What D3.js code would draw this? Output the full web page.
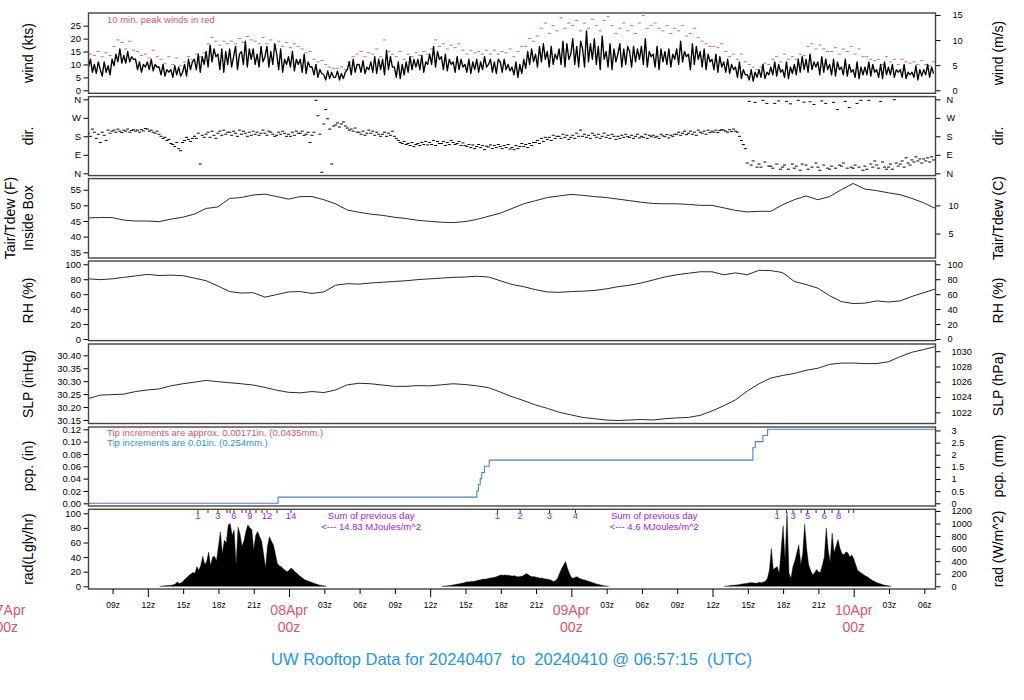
<!DOCTYPE html>
<html><head><meta charset="utf-8">
<script src="https://cdn.jsdelivr.net/npm/d3@7"></script>
<style>
body{margin:0;background:#fff;}
svg{font-family:"Liberation Sans", Arial, Helvetica, sans-serif;}
</style></head><body>
<svg id="c" width="1024" height="700"></svg>
<script>
// ---------------- DATA ----------------
const startTime = Date.UTC(2024,3,7,6,57,15);
const endTime   = Date.UTC(2024,3,10,6,57,15);
const titleText = "UW Rooftop Data for 20240407  to  20240410 @ 06:57:15  (UTC)";

// wind speed (kts), every 10 min from start
const windKts = [
9,12,7,10,6.5,11, 8,5.5,11,7,9.5,6, 12,9.5,14,11,16,10.5, 13.5,10.5,15,11,13,12,
12,8,11,7,10,9, 11,8,12,7.5,10,9, 9,6,10,5.5,8,7, 8,5,9.5,6,9,5.5,
7,10,5.5,12,8,11, 12,8,14,7,13,10, 15,9,17.5,11,16,13, 14,8,16,7,15,10,
16,9,13,17,8,14, 15,10,19,9,16,12, 16,10,14,9,17,11, 13,17,9,15,10,18,
14,8,16,7,12,10, 13,9,15,7.5,12,10, 12,7,14,6.5,11,9, 9,6,10,5,8,6.5,
6,4,7.5,4.5,7,5, 5,7.5,4,6.5,4.5,7, 8,11,6,12,7,10, 10,7,11.5,6.5,9,8,
11,7,13,6.5,12,8, 12,6,15.5,8,13,9, 9,5,11,4.5,10,6, 11,7,13,8,12,9,
12,8,13.5,7,11,10, 14,10,17,9,15,12, 13,8,14,7.5,12,10, 11,7,13,8,12,9,
10,7,12,6.5,11,8, 12,7,11,8,13,9, 10,12,7,11,6.5,12, 11,7,12,8,10,7.5,
9,6,11,5,10,6.5, 12,8.5,15,10,16,11, 14,9,17,11,18,12, 15,9,17,10,14,12,
16,10,19,9,18,12, 14,20,10,17,9,19, 16,9,23,11,18,12, 20,10,17,8,21,12,
15,9,18,8,16,11, 14,18,9,16,10,17, 15,9,17,11,16,12, 17,10,20,9,15,13,
14,9,17,8,16,11, 15,10,16,9,14,12, 16,10,19,11,15,13, 14,8,18,10,17,12,
15,9,16,8,14,11, 12,8,14,7,13,9, 11,7,12,6.5,10,8, 9,5,11,4.5,8,6,
6,4,8,3.5,7,5, 8,5,10,4.5,7,6, 9,6,11,5.5,10,7, 8,5,11,4.5,9,6.5,
10,6,12,7,13,8, 12,7,14,8,11,9, 11,6,13,7,12,8, 10,6,12,5.5,11,8,
9,6,12,5.5,10,7, 8,5,11,4.5,9,6, 9,6,11,5.5,10,7, 8,5,10,4.5,11,6,
9,6,10,5,8,7, 8,5,10,4.5,7,6, 7,5,9.5,4,8,5.5, 8,6,10,5,9,6.5
];
// 10-min peak winds (kts), every 20 min
const peakKts = [
14,13.5,15, 13,14.5,13.5, 17,19.5,18.5, 16,19,15.5, 15,13.5,14, 12.5,15.5,13,
12,10.5,13, 10,12.5,9.5, 11,13,12, 14,13,14.5, 18,20.5,19, 17.5,19,18,
19,18,20, 18.5,20.8,19.5, 19,18,20.5, 18,19.5,17.5, 19,17,18.5, 16.5,18,17,
16,14.5,15, 12,11,11.5, 10,9,8.5, 8.5,9,8, 11,13,14, 15,13,14.5,
14,16,13, 19.5,15,14, 13,15,12, 14,13,14.5, 13.5,15,14, 16,19.5,17,
18,16,17.5, 16.5,18,15.5, 14,15.5,14.5, 15,14,15.5, 14,15.5,14, 15,14.5,16,
13,15,17, 17,20,19, 21,24,26, 22,25,23, 28,24,26, 25,27,23,
26,24,27.5, 25,23,27, 28.5,25,22, 24,26,23, 25,22,26, 28.9,24,25,
26,24,23, 25,22,24, 23,25,21, 22,24,20.5, 19,18,17, 17,16.5,18,
15,13,14, 12,14,11, 10,9,8, 9,10.5,10, 12,13,11, 14,12,13,
12,14,13.5, 17,18,16, 17.5,16,15, 15,16.5,14, 16,15,17, 14,16,13,
13,12,11.5, 12,10,13, 11,12,10, 12,11,10.5, 11,10,11.5, 10,9.5,11
];
// wind direction (deg), every 10 min
const dirDeg = [
195,180,215,200,170,190, 150,200,185,160,210,195, 205,210,200,215,205,198, 210,205,215,200,208,212,
205,210,200,212,206,218, 215,205,210,200,195,205, 190,180,170,175,160,165, 145,140,130,150,120,110,
150,160,175,165,155,170, 180,170,195,45,185,175, 190,200,175,205,185,170, 195,205,185,210,190,200,
200,185,205,195,180,210, 190,205,195,180,200,185, 205,190,200,185,195,210, 195,185,205,200,190,180,
185,200,190,205,195,180, 190,180,200,185,205,195, 195,205,185,190,200,150, 185,200,355,280,190,5,
240,310,265,215,45,230, 235,245,225,240,250,230, 220,210,215,205,220,200, 200,190,205,185,195,210,
195,205,185,200,190,180, 190,200,180,195,185,205, 180,170,160,150,145,155, 140,145,135,150,130,140,
145,135,150,140,155,138, 150,140,160,135,155,145, 145,155,135,150,140,160, 150,140,145,155,135,148,
135,130,140,125,138,120, 130,140,125,135,115,132, 128,138,120,135,125,140, 130,120,135,125,140,118,
125,115,135,120,130,145, 130,140,125,145,135,150, 150,160,145,170,155,175, 165,175,160,185,170,180,
180,170,190,175,185,165, 175,185,170,195,180,210, 180,190,175,185,170,195, 185,175,190,170,180,195,
175,185,170,190,180,165, 180,170,185,175,190,178, 175,185,170,180,190,172, 180,175,190,170,185,178,
185,175,180,170,190,182, 178,188,172,185,180,190, 190,200,185,195,205,188, 195,205,190,200,185,210,
200,195,205,190,210,198, 205,200,210,198,208,212, 210,205,200,212,203,215, 205,200,180,160,140,120,
50,350,40,60,345,30, 45,30,355,55,340,35, 35,25,340,45,352,20, 30,40,350,20,338,45,
25,35,355,15,45,346, 40,20,348,30,335,50, 30,15,352,40,340,25, 20,35,345,25,310,40,
35,50,350,25,320,30, 25,40,340,30,355,15, 35,20,355,45,30,60, 40,25,350,55,30,20,
30,45,20,358,50,35, 45,60,30,75,50,40, 65,55,80,60,70,50, 70,60,75,55,80,65
];
// hourly from start
const tairF = [46.0,46.1,46.1,45.3,45.0,45.0,44.8,45.6,46.2,47.2,49.0,49.5,52.2,52.5,53.3,53.6,52.8,52.0,52.8,52.8,
51.8,50.5,48.5,47.8,47.2,46.8,46.2,45.8,45.2,44.9,44.6,44.5,44.8,45.5,46.5,47.5,49.0,50.5,51.5,52.5,
53.0,53.5,53.2,52.8,52.5,52.0,51.5,51.0,50.6,50.5,50.5,50.3,50.0,50.0,49.2,48.4,47.9,48.1,48.1,50.2,
51.8,53.0,51.8,52.8,55.0,57.0,55.2,54.7,54.0,53.4,52.2,50.8,49.0];
const rhPct = [80.5,79.5,80.5,82.5,84.5,86.5,85.0,85.5,84.8,81.5,78.0,71.0,63.5,61.5,62.0,56.0,59.5,63.0,63.5,61.0,
63.0,72.0,74.0,73.5,75.0,76.0,77.0,78.0,79.5,80.5,81.5,82.5,83.0,84.0,83.0,78.0,73.0,70.0,66.0,63.0,
62.5,63.5,64.0,65.0,67.0,70.0,72.0,75.0,79.0,83.0,86.0,88.0,90.0,90.0,86.0,88.5,86.0,92.0,91.5,89.0,
77.0,73.0,68.0,58.0,50.0,47.5,48.0,51.0,49.5,51.0,57.0,62.0,67.0];
const slpInHg = [30.233,30.246,30.248,30.250,30.260,30.266,30.270,30.282,30.290,30.296,30.303,30.298,30.294,30.290,30.285,
30.276,30.265,30.257,30.255,30.260,30.256,30.266,30.286,30.292,30.290,30.285,30.280,30.280,30.283,30.282,
30.286,30.290,30.287,30.282,30.275,30.258,30.240,30.225,30.208,30.195,30.180,30.170,30.160,30.155,30.150,
30.148,30.150,30.152,30.150,30.155,30.158,30.160,30.168,30.185,30.205,30.228,30.262,30.290,30.312,30.322,
30.330,30.342,30.350,30.365,30.370,30.370,30.368,30.368,30.375,30.395,30.412,30.422,30.434];
// precipitation (cumulative inches) step changes
const pcpTimes = ["2024-04-07T06:57:15Z","2024-04-07T23:04:00Z","2024-04-08T15:58:00Z","2024-04-08T16:06:00Z",
"2024-04-08T16:15:00Z","2024-04-08T16:23:00Z","2024-04-08T16:37:00Z","2024-04-08T17:01:00Z",
"2024-04-09T15:26:00Z","2024-04-09T15:38:00Z","2024-04-09T16:17:00Z","2024-04-09T16:41:00Z","2024-04-10T06:57:15Z"];
const pcpInches = [0,0.01,0.02,0.03,0.04,0.05,0.06,0.07,0.09,0.10,0.11,0.12,0.12];
// solar radiation (Lgly/hr), every 10 min, per day
const rad1Start = "2024-04-07T13:00:00Z";
const rad1 = [0,0,0.5,0.8,1,1.2,1.5,2,3,6,4,5,7,10,12,15,17,19,18,27,22,29,41,30,34,47,28,40,41,35,55,75,45,63,60,84,86,70,77,30,
81,72,55,62,75,84,80,78,50,70,75,68,62,45,25,55,68,62,57,45,32,28,27,24,22,20,22,25,23,20,18,15,13,11,9,8,7,6,5,4,3,2,1.5,1,0.5,0];
const rad2Start = "2024-04-08T13:00:00Z";
const rad2 = [0,0,0.3,0.8,1.2,1.5,2,2.4,3,3.6,4.2,4.5,5.5,6.2,6,6.8,6.5,7.2,8,8.5,9,10,9.5,10.5,11,11.5,12,12.5,13.5,14.5,
15.5,15,15.5,15,15.2,14.5,14,14.5,13.5,13,13.5,14,15.5,17.5,16,14,13,13.5,12.5,12,11,11.5,10.5,10,9.5,9,8,6.5,8,11,
18,24,29,34,25,18,12,11,12.5,13,11,10,9,8.5,7.5,6.5,6,5,4,3.2,2.5,1.8,1.2,0.6,0.2,0];
const rad3Start = "2024-04-09T13:00:00Z";
const rad3 = [0,0,0.5,1,1.3,1.6,1.8,2,2.5,3,3.5,4,4.2,4.8,5,4.5,4.3,4.6,5.5,5,6,7,11,22,52,23,25,27,18,50,
83,36,101,18,11,27,35,46,57,30,45,85,52,30,22,16,18,23,20,19,29,40,80,50,33,73,46,55,64,52,
45,43,47,46,40,43,38,30,22,20,18,16,14,13,11,9,7.5,6,5,4,3,2,1.5,1,0.5,0];
// cumulative MJ/m^2 marks (hours after 2024-04-07 00z) and labels
const radMarkHours = [16.26,17.11,17.96,18.73,18.98,19.32,20.0,20.34,20.68,21.19,21.70,22.13,22.98,24.17,
41.72,43.65,46.14,48.35, 65.49,66.28,66.85,67.53,68.09,68.8,69.51,70.16,70.73,71.58,72.0];
const radMarkLabels = ["1","","3","","","6","","","9","","","12","","14", "1","2","3","4", "1","","3","","5","","6","","8","",""];
const radSums = [{h:30.98, text:"14.83"},{h:55.05, text:"4.6"}];

// tick values
const windTicks = [0,5,10,15,20,25], windMsTicks=[0,5,10,15];
const dirTicks = [0,90,180,270,360], dirLabels = ["N","E","S","W","N"];
const tairTicks = [35,40,45,50,55], tairCTicks = [5,10];
const rhTicks = [0,20,40,60,80,100];
const slpTicks = [30.15,30.20,30.25,30.30,30.35,30.40], hpaTicks = [1022,1024,1026,1028,1030];
const pcpTicks = [0,0.02,0.04,0.06,0.08,0.10,0.12], mmTicks = [0,0.5,1,1.5,2,2.5,3];
const radTicks = [0,20,40,60,80,100], wm2Ticks = [0,200,400,600,800,1000,1200];

// ---------------- DRAW ----------------
const RED="#DF536B", BLUE="#2297E6", PURPLE="#A020F0";
const FONT='"Liberation Sans", Arial, Helvetica, sans-serif';
const svg = d3.select("#c");
const X0=88.5, X1=935.5;
const x = d3.scaleUtc().domain([new Date(startTime), new Date(endTime)]).range([X0,X1]);
const step10 = i => new Date(startTime + i*600e3);
const hourly = i => new Date(startTime + i*3600e3);
const fromDay = h => new Date(Date.UTC(2024,3,7) + h*3600e3);
const plain = d => String(d);

const panels = [
 {id:"p1", y0:13, y1:93.3},
 {id:"p2", y0:96.6, y1:175.6},
 {id:"p3", y0:178.6, y1:258},
 {id:"p4", y0:261, y1:340.6},
 {id:"p5", y0:344, y1:423.5},
 {id:"p6", y0:427, y1:506},
 {id:"p7", y0:509.3, y1:589}
];
const defs = svg.append("defs");
panels.forEach(p=>{
  defs.append("clipPath").attr("id","clip-"+p.id).append("rect")
   .attr("x",X0).attr("y",p.y0).attr("width",X1-X0).attr("height",p.y1-p.y0);
});

const yWind = d3.scaleLinear().domain([0,25]).range([90.3,25.7]);
const yWindMs = d3.scaleLinear().domain([0,25*0.514444]).range([90.3,25.7]);
const yDir = d3.scaleLinear().domain([0,360]).range([173.3,99.3]);
const yT = d3.scaleLinear().domain([35,55]).range([252.3,189.7]);
const yTC = d3.scaleLinear().domain([(35-32)/1.8,(55-32)/1.8]).range([252.3,189.7]);
const yRH = d3.scaleLinear().domain([0,100]).range([339,264.3]);
const ySLP = d3.scaleLinear().domain([30.15,30.40]).range([420,355.3]);
const ySLPh = d3.scaleLinear().domain([30.15*33.8639,30.40*33.8639]).range([420,355.3]);
const yP = d3.scaleLinear().domain([0,0.12]).range([503.3,429.3]);
const yPmm = d3.scaleLinear().domain([0,0.12*25.4]).range([503.3,429.3]);
const yR = d3.scaleLinear().domain([0,100]).range([586.3,513.3]);
const yRW = d3.scaleLinear().domain([0,100*11.622]).range([586.3,513.3]);

function styleAxis(g, fs){
  g.attr("font-size",fs).attr("font-family",FONT);
  g.select(".domain").remove();
  g.selectAll(".tick line").attr("stroke","#000");
}
function leftAxis(scale, vals, fmt){
  const a = d3.axisLeft(scale).tickValues(vals).tickSize(5).tickPadding(2.5).tickFormat(fmt || plain);
  const g = svg.append("g").attr("transform",`translate(${X0},0)`).call(a);
  styleAxis(g, 9.5);
}
function rightAxis(scale, vals, fmt, pad){
  const a = d3.axisRight(scale).tickValues(vals).tickSize(5).tickPadding(pad).tickFormat(fmt || plain);
  const g = svg.append("g").attr("transform",`translate(${X1},0)`).call(a);
  styleAxis(g, 9.2);
}
function clipG(id){ return svg.append("g").attr("clip-path",`url(#clip-${id})`); }

// --- wind panel
const gW = clipG("p1");
gW.selectAll("line.pk").data(peakKts).join("line")
  .attr("x1",(d,i)=>x(new Date(startTime+(i*20+10)*60e3))-1.6)
  .attr("x2",(d,i)=>x(new Date(startTime+(i*20+10)*60e3))+1.6)
  .attr("y1",d=>yWind(d)).attr("y2",d=>yWind(d))
  .attr("stroke",RED).attr("stroke-width",0.9);
gW.append("path").datum(windKts)
  .attr("d", d3.line().x((d,i)=>x(step10(i))).y(d=>yWind(d)))
  .attr("fill","none").attr("stroke","#000").attr("stroke-width",1.35).attr("stroke-linejoin","round");
svg.append("text").attr("x",107).attr("y",23).attr("font-size",9.5).attr("font-family",FONT)
  .attr("fill",RED).text("10 min. peak winds in red");
leftAxis(yWind, windTicks);
rightAxis(yWindMs, windMsTicks, null, 12);

// --- direction panel
const gD = clipG("p2");
gD.selectAll("line").data(dirDeg).join("line")
  .attr("x1",(d,i)=>x(step10(i))-1.5).attr("x2",(d,i)=>x(step10(i))+1.5)
  .attr("y1",d=>yDir(d)).attr("y2",d=>yDir(d))
  .attr("stroke","#000").attr("stroke-width",1);
leftAxis(yDir, dirTicks, (d,i)=>dirLabels[i]);
rightAxis(yDir, dirTicks, (d,i)=>dirLabels[i], 6);

// --- temperature panel
clipG("p3").append("path").datum(tairF)
  .attr("d", d3.line().x((d,i)=>x(hourly(i))).y(d=>yT(d)))
  .attr("fill","none").attr("stroke","#111").attr("stroke-width",0.9);
leftAxis(yT, tairTicks);
rightAxis(yTC, tairCTicks, null, 8);

// --- RH panel
clipG("p4").append("path").datum(rhPct)
  .attr("d", d3.line().x((d,i)=>x(hourly(i))).y(d=>yRH(d)))
  .attr("fill","none").attr("stroke","#111").attr("stroke-width",0.9);
leftAxis(yRH, rhTicks);
rightAxis(yRH, rhTicks, null, 7);

// --- SLP panel
clipG("p5").append("path").datum(slpInHg)
  .attr("d", d3.line().x((d,i)=>x(hourly(i))).y(d=>ySLP(d)))
  .attr("fill","none").attr("stroke","#111").attr("stroke-width",0.9);
leftAxis(ySLP, slpTicks, d3.format(".2f"));
rightAxis(ySLPh, hpaTicks, null, 11);

// --- precip panel
const pcpData = pcpTimes.map((t,i)=>({t:new Date(t), v:pcpInches[i]}));
clipG("p6").append("path").datum(pcpData)
  .attr("d", d3.line().curve(d3.curveStepAfter).x(d=>x(d.t)).y(d=>yP(d.v)))
  .attr("fill","none").attr("stroke","#4a80cc").attr("stroke-width",1.1);
svg.append("text").attr("x",107).attr("y",436).attr("font-size",9.5).attr("font-family",FONT)
  .attr("fill",RED).text("Tip increments are approx. 0.00171in. (0.0435mm.)");
svg.append("text").attr("x",107).attr("y",445.5).attr("font-size",9.5).attr("font-family",FONT)
  .attr("fill",BLUE).text("Tip increments are 0.01in. (0.254mm.)");
leftAxis(yP, pcpTicks, d3.format(".2f"));
rightAxis(yPmm, mmTicks, null, 11);

// --- radiation panel
const gR = clipG("p7");
[[rad1Start,rad1],[rad2Start,rad2],[rad3Start,rad3]].forEach(([s,arr])=>{
  const t0 = new Date(s).getTime();
  gR.append("path").datum(arr)
    .attr("d", d3.area().x((d,i)=>x(new Date(t0+i*600e3))).y0(yR(0)).y1(d=>yR(d)))
    .attr("fill","#000").attr("stroke","#000").attr("stroke-width",0.4);
});
const marks = radMarkHours.map((h,i)=>({t:fromDay(h), l:radMarkLabels[i]}));
svg.append("g").selectAll("line").data(marks).join("line")
  .attr("x1",d=>x(d.t)).attr("x2",d=>x(d.t)).attr("y1",509.3).attr("y2",513)
  .attr("stroke","#000").attr("stroke-width",0.8);
svg.append("g").selectAll("text").data(marks.filter(d=>d.l)).join("text")
  .attr("x",d=>x(d.t)).attr("y",518.5).attr("text-anchor","middle")
  .attr("font-size",9.5).attr("font-family",FONT).attr("fill",PURPLE).text(d=>d.l);
radSums.forEach(s=>{
  const cx = x(fromDay(s.h));
  svg.append("text").attr("x",cx).attr("y",518.5).attr("text-anchor","middle")
    .attr("font-size",9.5).attr("font-family",FONT).attr("fill",PURPLE).text("Sum of previous day");
  svg.append("text").attr("x",cx).attr("y",529.5).attr("text-anchor","middle")
    .attr("font-size",9.5).attr("font-family",FONT).attr("fill",PURPLE).text("<--- "+s.text+" MJoules/m^2");
});
leftAxis(yR, radTicks);
rightAxis(yRW, wm2Ticks, null, 11);

// --- panel boxes
panels.forEach(p=>{
  svg.append("rect").attr("x",X0).attr("y",p.y0).attr("width",X1-X0).attr("height",p.y1-p.y0)
    .attr("fill","none").attr("stroke","#444").attr("stroke-width",1.4);
});

// --- time axis
const hourTicks = d3.utcHour.every(3).range(new Date(startTime), new Date(endTime));
const gx = svg.append("g").attr("transform","translate(0,589)")
  .call(d3.axisBottom(x).tickValues(hourTicks).tickSize(5).tickPadding(8)
    .tickFormat(d=> d.getUTCHours()===0 ? "" : d3.utcFormat("%Hz")(d)));
styleAxis(gx, 8.5);
gx.selectAll(".tick line").attr("y2", d=> d.getUTCHours()%12===0 ? 8 : 5);
const dayTicks = d3.utcDay.range(new Date(Date.UTC(2024,3,7)), new Date(Date.UTC(2024,3,10,1)));
dayTicks.forEach(d=>{
  svg.append("text").attr("x",x(d)).attr("y",615).attr("text-anchor","middle")
    .attr("font-size",14).attr("font-family",FONT).attr("fill",RED).text(d3.utcFormat("%dApr")(d));
  svg.append("text").attr("x",x(d)).attr("y",632).attr("text-anchor","middle")
    .attr("font-size",14).attr("font-family",FONT).attr("fill",RED).text("00z");
});

// --- axis titles
function vtitle(xb, yc, txt){
  svg.append("text").attr("transform",`translate(${xb},${yc}) rotate(-90)`)
   .attr("text-anchor","middle").attr("font-size",14).attr("font-family",FONT).attr("fill","#000").text(txt);
}
vtitle(33,53,"wind (kts)"); vtitle(33,136,"dir."); vtitle(15,218,"Tair/Tdew (F)"); vtitle(33,218,"Inside Box");
vtitle(33,300.5,"RH (%)"); vtitle(33,384,"SLP (inHg)"); vtitle(33,466,"pcp. (in)"); vtitle(33,549,"rad(Lgly/hr)");
vtitle(1003,53,"wind (m/s)"); vtitle(1003,136,"dir."); vtitle(1003,218,"Tair/Tdew (C)");
vtitle(1003,300.5,"RH (%)"); vtitle(1003,384,"SLP (hPa)"); vtitle(1003,466,"pcp. (mm)"); vtitle(1003,549,"rad (W/m^2)");

svg.append("text").attr("x",511.5).attr("y",665).attr("text-anchor","middle")
  .attr("font-size",16.5).attr("font-family",FONT).attr("fill",BLUE)
  .attr("xml:space","preserve").style("white-space","pre").text(titleText);
</script></body></html>
